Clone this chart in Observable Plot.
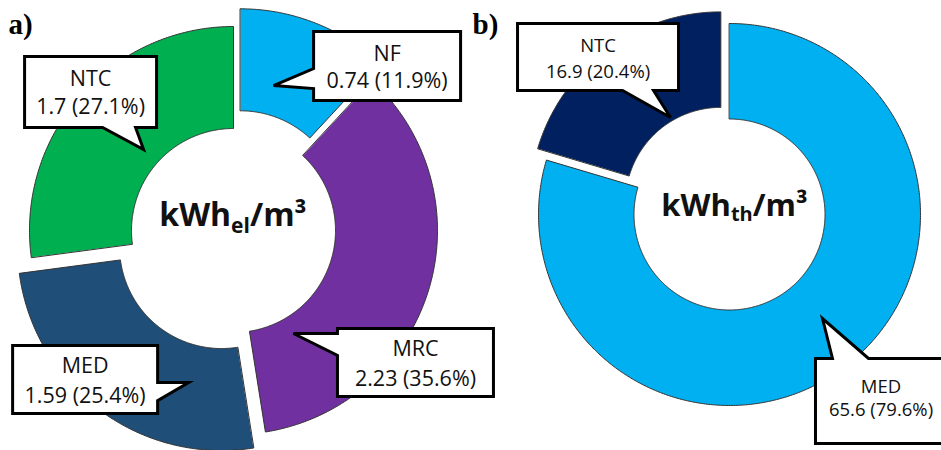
<!DOCTYPE html>
<html>
<head>
<meta charset="utf-8">
<script src="https://cdn.jsdelivr.net/npm/d3@7"></script>
<script src="https://cdn.jsdelivr.net/npm/@observablehq/plot@0.6"></script>
<style>
  body { margin: 0; background: #fff; }
</style>
</head>
<body>
<div id="chart"></div>
<script>
// a) specific electricity demand per process step (kWh_el/m³)
const elecCategories = ["NF", "MRC", "MED", "NTC"];
const elecValues = [0.74, 2.23, 1.59, 1.7];
const elecShares = [11.9, 35.6, 25.4, 27.1];
const elecColors = ["#00B0F0", "#7030A0", "#1F4E79", "#00B050"];

// b) specific thermal demand per process step (kWh_th/m³)
const heatCategories = ["MED", "NTC"];
const heatValues = [65.6, 16.9];
const heatShares = [79.6, 20.4];
const heatColors = ["#00B0F0", "#002060"];

const panelLabels = ["a)", "b)"];
const unitLabels = [["kWh", "el", "/m³"], ["kWh", "th", "/m³"]];

// Geometry of the two rings, slice explosion and callout placement.
// Callout tips are given in polar form (degrees clockwise from 12 o'clock,
// pixels from the slice's own centre); boxes and pointer bases are offsets from the tip.
const layout = [
  {
    cx: 233, cy: 230, R: 204, hole: 0.5,
    explode: {NF: 19, MRC: 0, MED: 20, NTC: 0},
    unit: {dx: -0.5, dy: -5, subDy: 7, size: 32, subSize: 21},
    label: {x: 8, y: 33},
    fontSize: 21.5,
    callouts: {
      NF:  {angle: 14.6,  rho: 131.5, box: [40, -54, 187, 15],   side: "left",   base: [-17, 3],  lines: [29, 56]},
      MRC: {angle: 149.8, rho: 119.2, box: [44, -5, 200, 63],    side: "left",   base: [0, 22],   lines: [27, 57]},
      MED: {angle: 193.6, rho: 140,   box: [-176, -37, -31, 31], side: "right",  base: [0, 18],   lines: [27, 57]},
      NTC: {angle: 312,   rho: 121,   box: [-119, -93, 13, -22], side: "bottom", base: [-41, -8], lines: [29, 57]}
    }
  },
  {
    cx: 729, cy: 214, R: 191, hole: 0.5,
    explode: {MED: 0, NTC: 14.5},
    unit: {dx: 5, dy: 1, subDy: 5, size: 31, subSize: 20},
    label: {x: 472, y: 33},
    fontSize: 18.5,
    callouts: {
      MED: {angle: 138.2, rho: 139.5, box: [-7, 40, 124, 125],  side: "top",    base: [10, 46],   lines: [35, 58]},
      NTC: {angle: 329.5, rho: 99.1,  box: [-153, -94, 8, -27], side: "bottom", base: [-48, -17], lines: [29, 55]}
    }
  }
];

const series = [
  {categories: elecCategories, values: elecValues, shares: elecShares, colors: elecColors},
  {categories: heatCategories, values: heatValues, shares: heatShares, colors: heatColors}
];

const rad = Math.PI / 180;
const slicePts = [];
const calloutPts = [];
const boxText = [];
const unitText = [];
const unitSubText = [];
const panelText = [];

const ctx = document.createElement("canvas").getContext("2d");
function textWidth(str, size) {
  ctx.font = `bold ${size}px "Open Sans"`;
  return ctx.measureText(str).width;
}

series.forEach((s, k) => {
  const L = layout[k];
  const rows = s.categories.map((c, i) => ({cat: c, value: s.values[i], share: s.shares[i], color: s.colors[i]}));
  const arcs = d3.pie().sort(null).value(d => d.share).startAngle(0).endAngle(2 * Math.PI)(rows);
  const r0 = L.R * L.hole;

  arcs.forEach(a => {
    const d = a.data;
    const id = `${k}-${d.cat}`;
    const mid = (a.startAngle + a.endAngle) / 2;
    const off = L.explode[d.cat] || 0;
    const ox = L.cx + off * Math.sin(mid);
    const oy = L.cy - off * Math.cos(mid);
    const n = Math.max(2, Math.ceil((a.endAngle - a.startAngle) / (0.5 * rad)));
    for (let j = 0; j <= n; j++) {
      const t = a.startAngle + (a.endAngle - a.startAngle) * j / n;
      slicePts.push({id, color: d.color, x: ox + L.R * Math.sin(t), y: oy - L.R * Math.cos(t)});
    }
    for (let j = n; j >= 0; j--) {
      const t = a.startAngle + (a.endAngle - a.startAngle) * j / n;
      slicePts.push({id, color: d.color, x: ox + r0 * Math.sin(t), y: oy - r0 * Math.cos(t)});
    }

    // callout balloon for this slice
    const c = L.callouts[d.cat];
    const tx = ox + c.rho * Math.sin(c.angle * rad);
    const ty = oy - c.rho * Math.cos(c.angle * rad);
    const x0 = tx + c.box[0], y0 = ty + c.box[1], x1 = tx + c.box[2], y1 = ty + c.box[3];
    const [b0, b1] = c.base;
    const pts = [[x0, y0]];
    if (c.side === "top") pts.push([tx + b0, y0], [tx, ty], [tx + b1, y0]);
    pts.push([x1, y0]);
    if (c.side === "right") pts.push([x1, ty + b0], [tx, ty], [x1, ty + b1]);
    pts.push([x1, y1]);
    if (c.side === "bottom") pts.push([tx + b1, y1], [tx, ty], [tx + b0, y1]);
    pts.push([x0, y1]);
    if (c.side === "left") pts.push([x0, ty + b1], [tx, ty], [x0, ty + b0]);
    pts.forEach(([x, y]) => calloutPts.push({id, x, y}));

    const xm = (x0 + x1) / 2;
    boxText.push({x: xm, y: y0 + c.lines[0], text: d.cat, size: L.fontSize});
    boxText.push({x: xm, y: y0 + c.lines[1], text: `${d.value} (${d.share.toFixed(1)}%)`, size: L.fontSize});
  });

  // unit label in the hole: "kWh" + subscript + "/m³"
  const [main, sub, tail] = unitLabels[k];
  const U = L.unit;
  const w1 = textWidth(main, U.size), w2 = textWidth(sub, U.subSize), w3 = textWidth(tail, U.size);
  const ux = L.cx + U.dx - (w1 + w2 + w3) / 2;
  const uy = L.cy + U.dy;
  unitText.push({x: ux, y: uy, text: main, size: U.size});
  unitSubText.push({x: ux + w1, y: uy + U.subDy, text: sub, size: U.subSize});
  unitText.push({x: ux + w1 + w2, y: uy, text: tail, size: U.size});

  panelText.push({x: L.label.x, y: L.label.y, text: panelLabels[k]});
});

const chart = Plot.plot({
  width: 941,
  height: 450,
  margin: 0,
  x: {domain: [0, 941], range: [0, 941], axis: null},
  y: {domain: [0, 450], range: [0, 450], axis: null},
  color: {type: "identity"},
  style: {background: "white", overflow: "hidden"},
  marks: [
    Plot.line(slicePts, {
      x: "x", y: "y", z: "id", fill: "color",
      stroke: "#333333", strokeWidth: 1, curve: "linear-closed",
      strokeLinejoin: "miter", strokeMiterlimit: 4
    }),
    Plot.line(calloutPts, {
      x: "x", y: "y", z: "id", fill: "white",
      stroke: "black", strokeWidth: 3, curve: "linear-closed",
      strokeLinejoin: "miter", strokeMiterlimit: 4, strokeLinecap: "butt"
    }),
    Plot.text(boxText, {
      x: "x", y: "y", text: "text", fontSize: "size",
      fontFamily: "Open Sans", textAnchor: "middle", lineAnchor: "bottom", fill: "#111"
    }),
    Plot.text(unitText, {
      x: "x", y: "y", text: "text", fontSize: "size", fontWeight: "bold",
      fontFamily: "Open Sans", textAnchor: "start", lineAnchor: "bottom", fill: "#111"
    }),
    Plot.text(unitSubText, {
      x: "x", y: "y", text: "text", fontSize: "size", fontWeight: "bold",
      fontFamily: "Open Sans", textAnchor: "start", lineAnchor: "bottom", fill: "#111"
    }),
    Plot.text(panelText, {
      x: "x", y: "y", text: "text", fontSize: 29, fontWeight: "bold",
      fontFamily: "Liberation Serif", textAnchor: "start", lineAnchor: "bottom", fill: "black"
    })
  ]
});

document.getElementById("chart").append(chart);
</script>
</body>
</html>
